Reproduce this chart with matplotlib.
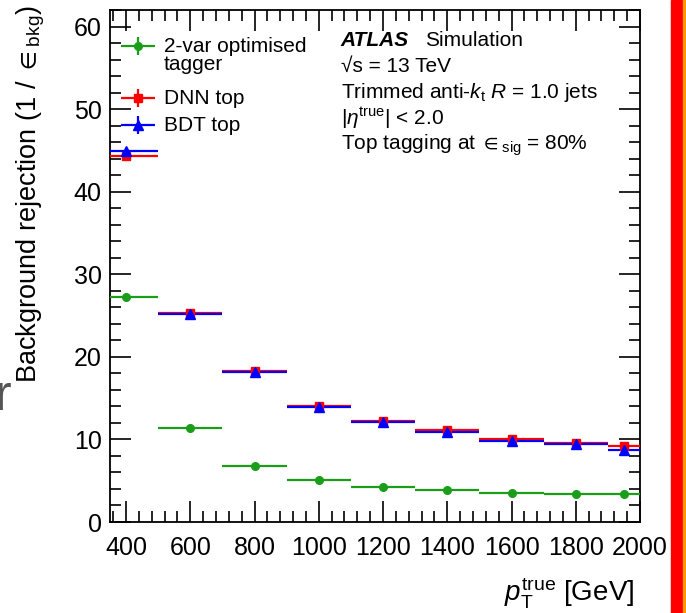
import matplotlib
matplotlib.use("Agg")
import matplotlib.pyplot as plt
from matplotlib.patches import Rectangle
from matplotlib.ticker import MultipleLocator

plt.rcParams['font.family'] = ['Liberation Sans', 'DejaVu Sans']
plt.rcParams['mathtext.fontset'] = 'custom'
plt.rcParams['mathtext.rm'] = 'Liberation Sans'
plt.rcParams['mathtext.it'] = 'Liberation Sans:italic'
plt.rcParams['mathtext.bf'] = 'Liberation Sans:bold'
plt.rcParams['mathtext.fallback'] = 'stixsans'

# pT bins [GeV] and the point position inside each bin
bin_lo = [350, 500, 700, 900, 1100, 1300, 1500, 1700, 1900]
bin_hi = [500, 700, 900, 1100, 1300, 1500, 1700, 1900, 2000]
pt = [400, 600, 800, 1000, 1200, 1400, 1600, 1800, 1950]

# background rejection 1/eps_bkg at eps_sig = 80%
rej_2var = [27.3, 11.4, 6.75, 5.05, 4.25, 3.85, 3.55, 3.38, 3.36]
rej_dnn = [44.3, 25.3, 18.3, 14.1, 12.2, 11.2, 10.1, 9.6, 9.2]
rej_bdt = [44.9, 25.2, 18.2, 13.9, 12.1, 10.85, 9.78, 9.42, 8.68]

GREEN = '#1a9e1a'

fig = plt.figure(figsize=(6.86, 6.13), dpi=100)
ax = fig.add_axes([110/686, 91/613, 530/686, 512/613])

xerr = [[p - lo for p, lo in zip(pt, bin_lo)], [hi - p for p, hi in zip(pt, bin_hi)]]
series = [
    (rej_2var, GREEN, 'o', 5.5),
    (rej_dnn, 'red', 's', 5.5),
    (rej_bdt, 'blue', '^', 6.5),
]
for vals, col, mk, ms in series:
    ax.errorbar(pt, vals, xerr=xerr, fmt=mk, color=col, ms=ms, elinewidth=1.6,
                capsize=0, zorder=3)

ax.set_xlim(350, 2000)
ax.set_ylim(0, 62)
ax.xaxis.set_major_locator(MultipleLocator(200))
ax.xaxis.set_minor_locator(MultipleLocator(40))
ax.yaxis.set_major_locator(MultipleLocator(10))
ax.yaxis.set_minor_locator(MultipleLocator(2))
ax.tick_params(which='both', direction='in', top=True, right=True, width=1.2,
               labelsize=18)
ax.tick_params(axis='x', pad=10)
ax.tick_params(axis='y', pad=6)
ax.tick_params(which='major', length=15)
ax.tick_params(which='minor', length=8)
for s in ax.spines.values():
    s.set_linewidth(1.3)

ax.set_ylabel('Background rejection (1 / $\\in_{\\mathrm{bkg}}$)', fontsize=19.5, loc='top')
ax.yaxis.set_label_coords(-0.118, 1.01)
ax.set_xlabel('$p_{\\mathrm{T}}^{\\mathrm{true}}$ [GeV]', fontsize=20, loc='right')
ax.xaxis.set_label_coords(0.99, -0.105)

# legend drawn by hand, ROOT style
leg = [
    (0.930, GREEN, 'o', 5.5, '2-var optimised\ntagger'),
    (0.828, 'red', 's', 5.5, 'DNN top'),
    (0.775, 'blue', '^', 6.5, 'BDT top'),
]
for y, col, mk, ms, lab in leg:
    ax.errorbar([0.052], [y], xerr=0.032, yerr=0.018, fmt=mk, color=col, ms=ms,
                elinewidth=1.6, capsize=0, transform=ax.transAxes, clip_on=False)
    ax.text(0.102, y + 0.018 if '\n' in lab else y, lab, transform=ax.transAxes,
            fontsize=15, va='top' if '\n' in lab else 'center', linespacing=0.95)

# ATLAS label block
ax.text(0.435, 0.941, 'ATLAS', transform=ax.transAxes, fontsize=15,
        fontweight='bold', fontstyle='italic', va='center')
ax.text(0.594, 0.941, 'Simulation', transform=ax.transAxes, fontsize=15, va='center')
info = [
    (0.889, '√s = 13 TeV'),
    (0.838, 'Trimmed anti-$k_{\\mathrm{t}}$ $R$ = 1.0 jets'),
    (0.789, '|$\\eta^{\\mathrm{true}}$| < 2.0'),
    (0.736, 'Top tagging at $\\in_{\\mathrm{sig}}$ = 80%'),
]
for y, txt in info:
    ax.text(0.435, y, txt, transform=ax.transAxes, fontsize=15, va='center')

# edge decorations
fig.patches.append(Rectangle((671/686, 0), 11.5/686, 1, transform=fig.transFigure,
                             color='#ff0000', zorder=0))
fig.patches.append(Rectangle((682.5/686, 0), 3.5/686, 1, transform=fig.transFigure,
                             color='#ff9900', zorder=0))
fig.text(-5/686, 1 - 410/613, 'r', fontsize=36, color='#555555', ha='left',
         va='baseline')

fig.savefig('out.png', dpi=100)
